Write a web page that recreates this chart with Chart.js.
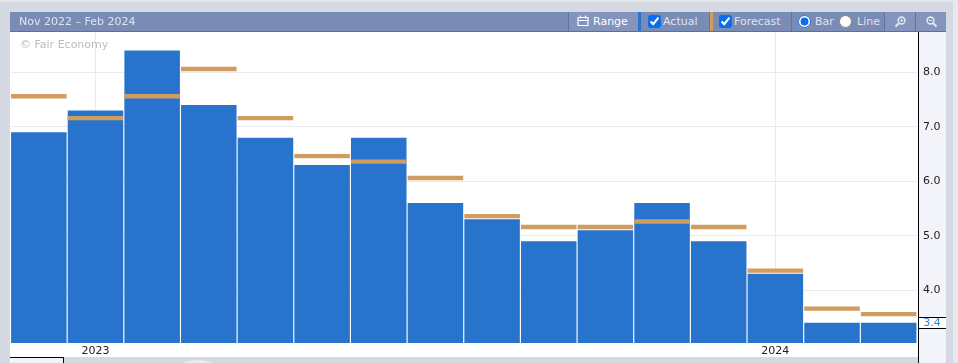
<!DOCTYPE html>
<html>
<head>
<meta charset="utf-8">
<script src="https://cdn.jsdelivr.net/npm/chart.js@4"></script>
<style>
  html, body { margin: 0; padding: 0; }
  body { width: 958px; height: 363px; overflow: hidden; position: relative; background: #d5d9e2; font-family: "DejaVu Sans", sans-serif; font-size: 11px; }
  .topline { position: absolute; left: 0; top: 0; width: 958px; height: 2px; background: #e6e8ed; }
  .rightline { position: absolute; left: 953px; top: 0; width: 5px; height: 363px; background: #e6e8ed; }
  .head { position: absolute; left: 10px; top: 12px; width: 936px; height: 19px; background: #7a8bb5; border-bottom: 1px solid #5a70a3; color: #dfe4ee; }
  .head .title { position: absolute; left: 9px; top: 3px; }
  .cell { position: absolute; top: 0; height: 19px; border-left: 1px solid #5f74a6; box-sizing: border-box; white-space: nowrap; }
  .cell span { position: absolute; top: 3px; }
  .cell input { position: absolute; margin: 0; width: 13px; height: 13px; top: 3px; accent-color: #0b6cf0; }
  .mark { position: absolute; top: 0; width: 3px; height: 19px; }
  .paper { position: absolute; left: 10px; top: 32px; width: 908px; height: 325px; background: #fff; }
  .yside { position: absolute; left: 918px; top: 32px; width: 28px; height: 331px; background: #f3f4f9; border-left: 1px solid #000; box-sizing: border-box; }
  .nav { position: absolute; left: 10px; top: 357px; width: 54px; height: 6px; background: #f3f4f9; border-top: 1px solid #000; border-right: 1px solid #000; box-sizing: border-box; }
  .handle { position: absolute; left: 178px; top: 360px; width: 40px; height: 20px; border-radius: 50%; background: #e9ebf0; }
  canvas { position: absolute; left: 10px; top: 32px; }
  .mark-text { position: absolute; left: 20px; top: 38px; color: #bcbcbc; }
</style>
</head>
<body>
<div class="topline"></div>
<div class="rightline"></div>
<div class="paper"></div>
<div class="yside"></div>
<div class="nav"></div>
<div class="handle"></div>
<canvas id="c" width="936" height="325"></canvas>
<div class="mark-text">© Fair Economy</div>
<div class="head">
  <div class="title">Nov 2022 – Feb 2024</div>
  <div class="cell" style="left:558px;width:70px;background:#8494bd">
    <svg style="position:absolute;left:8px;top:3px" width="12" height="11" viewBox="0 0 12 11"><path d="M1 2.5h10v8H1z M1 5.5h10 M3.5 0.5v3 M8.5 0.5v3" fill="none" stroke="#fff" stroke-width="1.2"/></svg>
    <span style="left:24px;color:#fff">Range</span>
  </div>
  <div class="mark" style="left:628px;background:#2874cc"></div>
  <div class="cell" style="left:631px;width:68px;border-left:0">
    <input type="checkbox" checked style="left:7px"><span style="left:22px">Actual</span>
  </div>
  <div class="mark" style="left:699px;background:#d09c5f;border-left:1px solid #5f74a6;width:3px"></div>
  <div class="cell" style="left:703px;width:79px;border-left:0">
    <input type="checkbox" checked style="left:6px"><span style="left:21px">Forecast</span>
  </div>
  <div class="cell" style="left:781px;width:93px">
    <input type="radio" name="mode" checked style="left:6px"><span style="left:23px">Bar</span>
    <input type="radio" name="mode" style="left:47px"><span style="left:65px">Line</span>
  </div>
  <div class="cell" style="left:874px;width:31px;background:#8494bd">
    <svg style="position:absolute;left:9px;top:4px" width="12" height="12" viewBox="0 0 12 12"><circle cx="7.5" cy="4.5" r="3.4" fill="none" stroke="#dfe4ee" stroke-width="1.6"/><path d="M5 7L1.5 10.5" stroke="#dfe4ee" stroke-width="2"/><path d="M5.8 4.5h3.4M7.5 2.8v3.4" stroke="#dfe4ee"/></svg>
  </div>
  <div class="cell" style="left:905px;width:31px;background:#8494bd">
    <svg style="position:absolute;left:10px;top:4px" width="12" height="12" viewBox="0 0 12 12"><circle cx="4.5" cy="4.5" r="3.4" fill="none" stroke="#dfe4ee" stroke-width="1.6"/><path d="M7 7l3.5 3.5" stroke="#dfe4ee" stroke-width="2"/><path d="M2.8 4.5h3.4" stroke="#dfe4ee"/></svg>
  </div>
</div>
<script>
var months = ["Nov 2022", "Dec 2022", "Jan 2023", "Feb 2023", "Mar 2023", "Apr 2023", "May 2023", "Jun 2023", "Jul 2023", "Aug 2023", "Sep 2023", "Oct 2023", "Nov 2023", "Dec 2023", "Jan 2024", "Feb 2024"];
var yearLabels = ["", "2023", "", "", "", "", "", "", "", "", "", "", "", "2024", "", ""];
var actual = [6.9, 7.3, 8.4, 7.4, 6.8, 6.3, 6.8, 5.6, 5.3, 4.9, 5.1, 5.6, 4.9, 4.3, 3.4, 3.4];
var forecast = [7.6, 7.2, 7.6, 8.1, 7.2, 6.5, 6.4, 6.1, 5.4, 5.2, 5.2, 5.3, 5.2, 4.4, 3.7, 3.6];
var yTicks = [8, 7, 6, 5, 4];
var latest = 3.4;
var forecastBand = 0.08; // thickness of the forecast dash, in axis units

// white box with the latest value on the y axis
var latestBox = {
  id: "latestBox",
  afterDraw: function (chart) {
    var c = chart.ctx, s = chart.scales.y, y = Math.round(s.getPixelForValue(latest));
    c.save();
    c.fillStyle = "#fff";
    c.fillRect(s.left + 2, y - 6, s.width, 11);
    c.fillStyle = "#000";
    c.fillRect(s.left + 1, y - 6, s.width, 1);
    c.fillRect(s.left + 1, y + 5, s.width, 1);
    c.fillStyle = "#3b82d0";
    c.font = "11px 'DejaVu Sans'";
    c.textAlign = "center";
    c.textBaseline = "middle";
    c.fillText(latest.toFixed(1), s.left + 15, y);
    c.restore();
  }
};

new Chart(document.getElementById("c"), {
  data: {
    labels: months,
    datasets: [
      { type: "bar", label: "Forecast", order: 1, grouped: false, backgroundColor: "#d09c5f",
        data: forecast.map(function (v) { return [v - forecastBand, v]; }),
        barPercentage: 1, categoryPercentage: 0.98 },
      { type: "bar", label: "Actual", order: 2, grouped: false, backgroundColor: "#2874cc",
        data: actual,
        barPercentage: 1, categoryPercentage: 0.98 }
    ]
  },
  options: {
    responsive: false,
    animation: false,
    layout: { autoPadding: false, padding: { left: 0.5, right: 1, top: 0, bottom: 0 } },
    plugins: { legend: { display: false }, tooltip: { enabled: false } },
    scales: {
      x: {
        afterFit: function (s) { s.height = 14; s.paddingLeft = 0; s.paddingRight = 0; },
        border: { display: false },
        grid: {
          offset: false, drawTicks: false,
          color: function (ctx) { return yearLabels[ctx.index] ? "#e8e9f1" : "rgba(0,0,0,0)"; }
        },
        ticks: {
          autoSkip: false, maxRotation: 0, padding: 2, color: "#222",
          font: { family: "'DejaVu Sans'", size: 11 },
          callback: function (v, i) { return yearLabels[i]; }
        }
      },
      y: {
        position: "right", min: 3.03, max: 8.74,
        afterFit: function (s) { s.width = 28; s.paddingTop = 0; s.paddingBottom = 0; },
        afterBuildTicks: function (s) { s.ticks = yTicks.map(function (v) { return { value: v }; }); },
        border: { display: false },
        grid: { color: "#e8e9f1", drawTicks: false },
        ticks: {
          padding: 6, color: "#222",
          font: { family: "'DejaVu Sans'", size: 11 },
          callback: function (v) { return v.toFixed(1); }
        }
      }
    }
  },
  plugins: [latestBox]
});
</script>
</body>
</html>
